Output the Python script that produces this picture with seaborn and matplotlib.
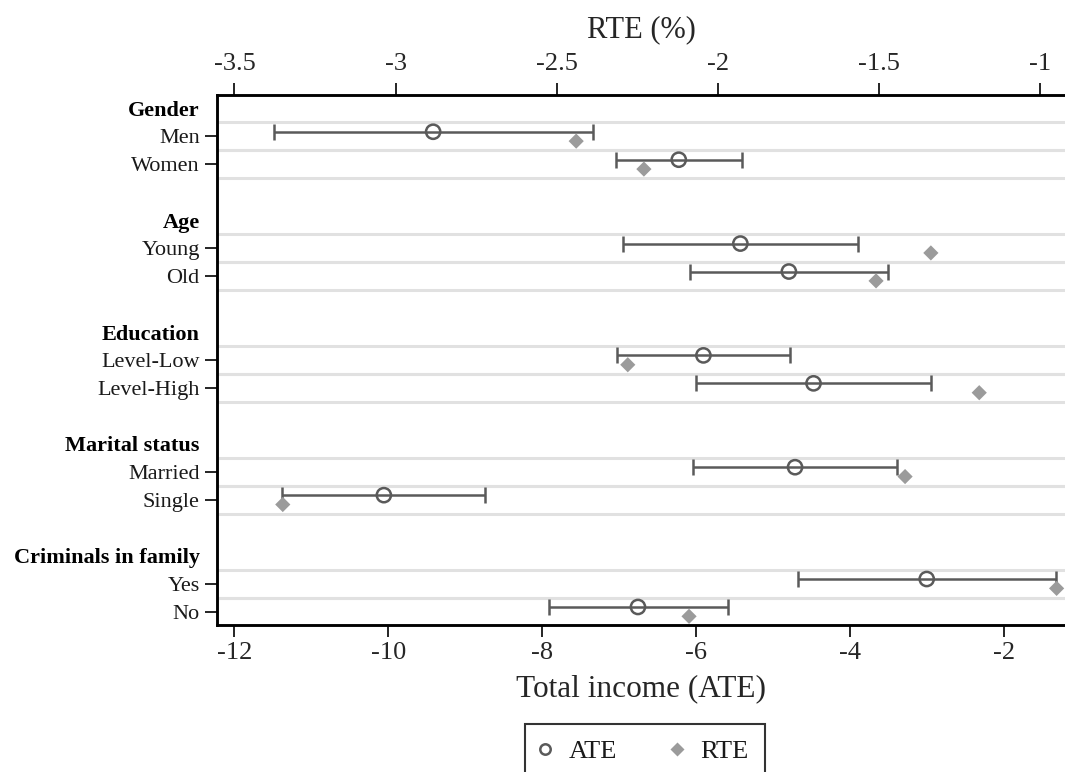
import numpy as np
import pandas as pd
import matplotlib
matplotlib.use("Agg")
import matplotlib.pyplot as plt
from matplotlib.lines import Line2D
import seaborn as sns

# ---------------- data ----------------
groups = ["Gender", "Age", "Education", "Marital status", "Criminals in family"]
labels = ["Men", "Women", "Young", "Old", "Level-Low", "Level-High",
          "Married", "Single", "Yes", "No"]
ate = [-9.42, -6.23, -5.43, -4.80, -5.91, -4.48, -4.72, -10.06, -3.01, -6.76]
ate_lo = [-11.49, -7.05, -6.95, -6.09, -7.03, -6.01, -6.04, -11.38, -4.68, -7.91]
ate_hi = [-7.34, -5.41, -3.90, -3.51, -4.79, -2.95, -3.40, -8.74, -1.33, -5.59]
rte = [-2.44, -2.23, -1.34, -1.51, -2.28, -1.19, -1.42, -3.35, -0.95, -2.09]
bottom_ticks = [-12, -10, -8, -6, -4, -2]
top_ticks = [-3.5, -3, -2.5, -2, -1.5, -1]
top_ticklabels = ["-3.5", "-3", "-2.5", "-2", "-1.5", "-1"]

sns.set_theme(style="white")
plt.rcParams["font.family"] = ["Liberation Serif", "DejaVu Serif"]

# row positions
item_pos = []
header_pos = []
for g in range(len(groups)):
    header_pos.append(4 * g)
    item_pos += [4 * g + 1, 4 * g + 2]
item_pos = np.array(item_pos, dtype=float)

df = pd.DataFrame({"label": labels, "pos": item_pos, "ate": ate,
                   "lo": ate_lo, "hi": ate_hi, "rte": rte})
df["y_ate"] = df["pos"] - 0.165
df["y_rte"] = df["pos"] + 0.17

fig = plt.figure(figsize=(10.65, 7.72), dpi=100)
ax = fig.add_axes([217 / 1065, 1 - 625 / 772, 1 - 217 / 1065, (625 - 95) / 772])

# grid lines around each coefficient row
for p in item_pos:
    for h in (p - 0.5, p + 0.5):
        ax.axhline(h, color="#e1e1e1", lw=2.2, zorder=0)

ci_col = "#5a5a5a"
ax.errorbar(df["ate"], df["y_ate"],
            xerr=[df["ate"] - df["lo"], df["hi"] - df["ate"]],
            fmt="none", ecolor=ci_col, elinewidth=1.8, capsize=5.5,
            capthick=1.8, zorder=2)
sns.scatterplot(data=df, x="ate", y="y_ate", ax=ax, marker="o", s=105,
                facecolor="none", edgecolor=ci_col, linewidth=1.8, zorder=3)

ax.set_xlim(-12.227, -1.214)
ax.set_ylim(18.48, -0.48)

ax2 = ax.twiny()
sns.scatterplot(data=df, x="rte", y="y_rte", ax=ax2, marker="D", s=60,
                color="#9b9b9b", edgecolor="none", zorder=3)
ax2.set_xlim(-3.554, -0.924)
ax2.set_ylim(18.48, -0.48)

# y ticks: items (major) + bold group headers (minor, no tick marks)
ax.set_yticks(item_pos)
ax.set_yticklabels(labels, fontsize=16, color="#1a1a1a")
ax.set_yticks(header_pos, minor=True)
ax.set_yticklabels(groups, minor=True, fontsize=16, fontweight="bold",
                   color="black")
ax.set_ylabel("")
ax2.set_ylabel("")

ax.set_xticks(bottom_ticks)
ax.set_xticklabels([str(v) for v in bottom_ticks], fontsize=19)
ax.set_xlabel("Total income (ATE)", fontsize=22.5, labelpad=7)
ax2.set_xticks(top_ticks)
ax2.set_xticklabels(top_ticklabels, fontsize=19)
ax2.set_xlabel("RTE (%)", fontsize=22, labelpad=11)

for a in (ax, ax2):
    a.tick_params(axis="both", which="major", length=8.5, width=1.2,
                  color="black", pad=4, direction="out")
    a.grid(False)
    for s in a.spines.values():
        s.set_color("black")
        s.set_linewidth(1.8)
    a.spines["right"].set_visible(False)
ax2.tick_params(axis="x", which="major", pad=6)
ax.tick_params(axis="y", which="minor", length=0, pad=12.5)
ax.tick_params(axis="x", bottom=True, top=False)
ax.tick_params(axis="y", left=True)
ax2.tick_params(axis="x", top=True, bottom=False)

handles = [
    Line2D([], [], marker="o", linestyle="none", markerfacecolor="none",
           markeredgecolor=ci_col, markeredgewidth=1.8, markersize=7.5),
    Line2D([], [], marker="D", linestyle="none", color="#9b9b9b",
           markeredgecolor="none", markersize=7),
]
leg = fig.legend(handles, ["ATE", "RTE"], loc="upper center",
                 bbox_to_anchor=(645 / 1065, 1 - 724 / 772), ncol=2,
                 fontsize=19, frameon=True, fancybox=False, borderpad=0.6,
                 handlelength=0.3, handletextpad=0.75, columnspacing=2.1,
                 borderaxespad=0)
leg.get_frame().set_edgecolor("black")
leg.get_frame().set_linewidth(1.5)
for t in leg.get_texts():
    t.set_color("#1a1a1a")

fig.savefig("out.png", dpi=100)
